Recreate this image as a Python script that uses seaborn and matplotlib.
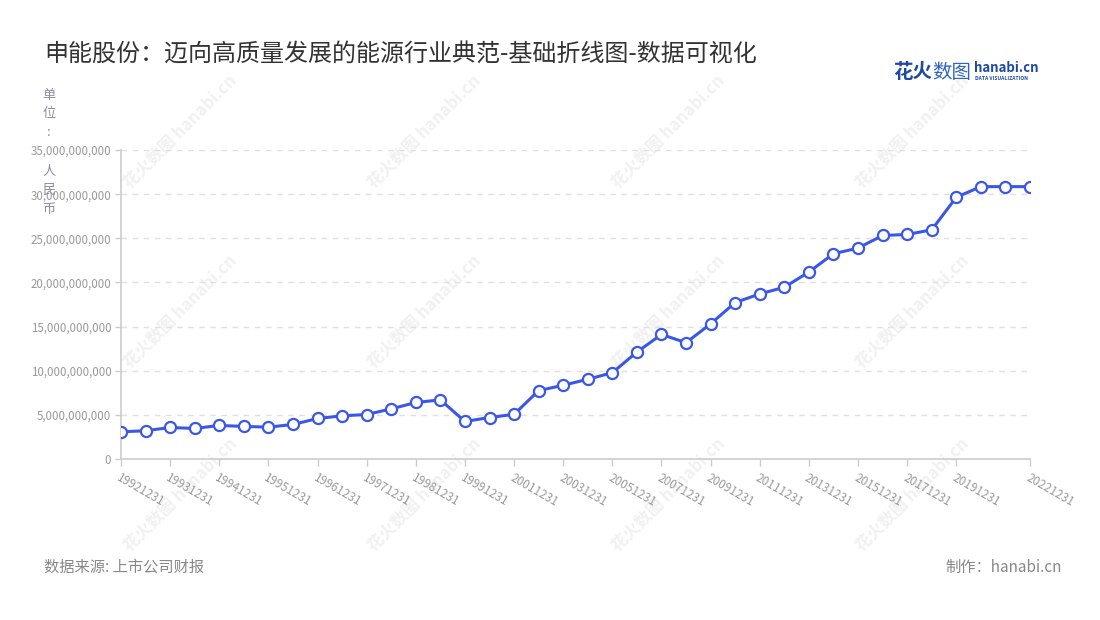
import numpy as np
import pandas as pd
import matplotlib
matplotlib.use("Agg")
import matplotlib.pyplot as plt
import seaborn as sns
from matplotlib.ticker import FuncFormatter

# ---------------- DATA ----------------
periods = (
    ["19921231"]
    + [f"{y}{d}" for y in range(1993, 2000) for d in ("0630", "1231")]
    + [f"{y}1231" for y in range(2000, 2023)]
)
values_bn = [
    3.08, 3.20, 3.57, 3.46, 3.80, 3.69, 3.61, 3.91, 4.59, 4.89,
    5.04, 5.68, 6.40, 6.70, 4.25, 4.70, 5.06, 7.75, 8.35, 9.03,
    9.78, 12.11, 14.11, 13.17, 15.31, 17.72, 18.70, 19.45, 21.18, 23.25,
    23.89, 25.32, 25.43, 25.96, 29.65, 30.85, 30.85, 30.85,
]
shown_labels = list(range(0, 35, 2)) + [37]

df = pd.DataFrame({"period": periods, "value": np.array(values_bn) * 1e9})

# ---------------- STYLE ----------------
sns.set_theme(style="white")
plt.rcParams["font.family"] = ["Noto Sans CJK SC", "DejaVu Sans"]

LINE = "#3a57e8"
GREY = "#9a9a9a"

fig = plt.figure(figsize=(11, 6.2), dpi=100)
ax = fig.add_axes([121 / 1100, 1 - 459 / 620, 909 / 1100, 309 / 620])
ax.patch.set_alpha(0)

# watermarks
for cx in (180, 424, 668, 912):
    for cy in (132, 312, 495):
        fig.text(cx / 1100, 1 - cy / 620, "花火数图 hanabi.cn", rotation=45,
                 ha="center", va="center", fontsize=12, fontweight="bold",
                 color="#f1f1f1", zorder=-5)

sns.lineplot(data=df, x="period", y="value", sort=False, ax=ax, color=LINE,
             linewidth=2.2, marker="o", markersize=8, markerfacecolor="white",
             markeredgecolor=LINE, markeredgewidth=1.6, zorder=5)

ax.set_xlim(0, len(periods) - 1)
ax.set_ylim(0, 35e9)
ax.set_yticks(np.arange(0, 35e9 + 1, 5e9))
ax.yaxis.set_major_formatter(FuncFormatter(lambda v, p: f"{int(v):,}"))
ax.set_xticks(shown_labels)
ax.set_xticklabels([periods[i] for i in shown_labels], rotation=-30,
                   ha="left", va="top", rotation_mode="anchor")
ax.set_xlabel("")
ax.set_ylabel("")

ax.grid(axis="y", color="#e0e0e0", linestyle=(0, (4, 4)), linewidth=1)
ax.grid(axis="x", visible=False)
for s in ("top", "right"):
    ax.spines[s].set_visible(False)
for s in ("left", "bottom"):
    ax.spines[s].set_color("#cccccc")
    ax.spines[s].set_linewidth(1.2)
ax.tick_params(axis="y", colors="#cccccc", labelcolor=GREY, labelsize=8.3,
               length=4, width=1, direction="out", left=True, pad=3)
ax.tick_params(axis="x", colors="#cccccc", labelcolor=GREY, labelsize=8.5,
               length=5, width=1, direction="out", bottom=True, pad=4)

# unit label, stacked vertically
for i, ch in enumerate("单位: 人民币"):
    fig.text(49 / 1100, 1 - (95 + 19 * i) / 620, ch, ha="center", va="center",
             fontsize=9.5, color="#8c8ca0")

# title
fig.text(44 / 1100, 1 - 55 / 620, "申能股份：迈向高质量发展的能源行业典范-基础折线图-数据可视化",
         ha="left", va="center", fontsize=17.3, color="#333333")

# logo
fig.text(893 / 1100, 1 - 72 / 620, "花火", ha="left", va="center",
         fontsize=14, fontweight="bold", color="#1d4aa0")
fig.text(932 / 1100, 1 - 72 / 620, "数图", ha="left", va="center",
         fontsize=14, color="#2f63c4")
fig.text(974 / 1100, 1 - 68 / 620, "hanabi.cn", ha="left", va="center",
         fontsize=9.5, fontweight="bold", color="#1d4aa0")
fig.text(975 / 1100, 1 - 79 / 620, "DATA VISUALIZATION", ha="left", va="center",
         fontsize=3.6, fontweight="bold", color="#1d4aa0")

# footer
fig.text(44 / 1100, 1 - 567 / 620, "数据来源: 上市公司财报", ha="left", va="center",
         fontsize=11, color="#888888")
fig.text(1062 / 1100, 1 - 567 / 620, "制作：hanabi.cn", ha="right", va="center",
         fontsize=11, color="#888888")

fig.savefig("out.png", dpi=100, facecolor="white")
